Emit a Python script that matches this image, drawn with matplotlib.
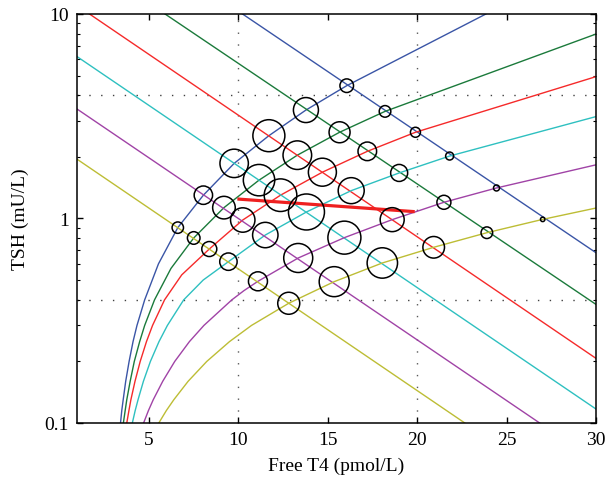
import matplotlib
matplotlib.use('Agg')
import matplotlib.pyplot as plt
import numpy as np

plt.rcParams['font.family'] = ['Liberation Serif', 'DejaVu Serif']

# colours of the six iso-lines (same order for both families)
colours = ['#3a55a6', '#1b7a3b', '#f52a2a', '#2ec0c0', '#a043a6', '#bdbd35']

# increasing curves (FT4, TSH)
inc_ft4 = [
    [3.43, 3.50, 3.58, 3.72, 3.91, 4.13, 4.35, 4.78, 5.55, 6.63, 8.06, 9.78, 11.72, 13.79, 16.07, 23.85],
    [3.59, 3.69, 3.78, 3.97, 4.20, 4.50, 4.78, 5.33, 6.25, 7.52, 9.21, 11.17, 13.31, 15.67, 18.21, 30.0],
    [3.78, 3.90, 4.01, 4.24, 4.53, 4.88, 5.22, 5.89, 6.85, 8.39, 10.26, 12.37, 14.71, 17.22, 19.91, 30.0],
    [4.09, 4.25, 4.41, 4.71, 5.10, 5.58, 6.05, 6.96, 8.05, 9.46, 11.52, 13.82, 16.32, 19.0, 21.82, 30.0],
    [4.72, 4.99, 5.26, 5.79, 6.46, 7.28, 8.09, 9.65, 10.33, 11.11, 13.36, 15.94, 18.61, 21.5, 24.44, 30.0],
    [5.57, 5.99, 6.41, 7.21, 8.25, 9.52, 10.75, 12.83, 15.37, 18.06, 20.93, 23.9, 27.02, 30.0],
]
inc_tsh = [
    [0.1, 0.115, 0.13, 0.16, 0.2, 0.25, 0.3, 0.4, 0.6, 0.902, 1.30, 1.86, 2.54, 3.39, 4.46, 10.0],
    [0.1, 0.115, 0.13, 0.16, 0.2, 0.25, 0.3, 0.4, 0.57, 0.803, 1.13, 1.54, 2.04, 2.64, 3.34, 7.98],
    [0.1, 0.115, 0.13, 0.16, 0.2, 0.25, 0.3, 0.4, 0.53, 0.709, 0.983, 1.30, 1.684, 2.13, 2.64, 4.94],
    [0.1, 0.115, 0.13, 0.16, 0.2, 0.25, 0.3, 0.4, 0.5, 0.615, 0.83, 1.076, 1.368, 1.67, 2.02, 3.15],
    [0.1, 0.115, 0.13, 0.16, 0.2, 0.25, 0.3, 0.4, 0.444, 0.493, 0.641, 0.806, 0.987, 1.20, 1.41, 1.83],
    [0.1, 0.115, 0.13, 0.16, 0.2, 0.25, 0.3, 0.385, 0.491, 0.606, 0.723, 0.852, 0.99, 1.125],
]

# decreasing lines: TSH at FT4 = 1 and FT4 = 30
dec_ft4 = [1.0, 30.0]
dec_tsh = [
    [35.2, 0.68],
    [19.5, 0.38],
    [11.0, 0.207],
    [6.19, 0.117],
    [3.43, 0.065],
    [1.95, 0.0366],
]

# circles at the intersections (FT4, TSH, relative size)
circ_ft4 = [16.07, 18.21, 19.91, 21.82, 24.44, 27.02,
            13.79, 15.67, 17.22, 19.0, 21.5, 23.9,
            11.72, 13.31, 14.71, 16.32, 18.61, 20.93,
            9.78, 11.17, 12.37, 13.82, 15.94, 18.06,
            8.06, 9.21, 10.26, 11.52, 13.36, 15.37,
            6.63, 7.52, 8.39, 9.46, 11.11, 12.83]
circ_tsh = [4.46, 3.34, 2.64, 2.02, 1.41, 0.99,
            3.39, 2.64, 2.13, 1.67, 1.20, 0.852,
            2.54, 2.04, 1.684, 1.368, 0.987, 0.723,
            1.86, 1.54, 1.30, 1.076, 0.806, 0.606,
            1.30, 1.13, 0.983, 0.83, 0.641, 0.491,
            0.902, 0.803, 0.709, 0.615, 0.493, 0.385]
circ_size = [6.8, 5.8, 5.0, 4.0, 3.0, 2.2,
             12.5, 10.5, 9.3, 8.5, 7.0, 5.8,
             16.0, 14.3, 14.0, 13.0, 12.0, 10.8,
             14.2, 15.7, 16.3, 18.0, 16.5, 15.2,
             9.2, 11.3, 12.2, 12.7, 14.5, 15.0,
             5.7, 6.3, 7.5, 8.7, 9.5, 11.0]

# thick red segment
seg_ft4 = [9.96, 19.87]
seg_tsh = [1.245, 1.08]

fig = plt.figure(figsize=(6.07, 4.85), dpi=100)
ax = fig.add_axes([0.1269, 0.1258, 0.855, 0.8433])

# reference ranges (dotted)
for xv in [10, 20]:
    ax.axvline(xv, color='0.35', lw=1.0, ls=(0, (1, 7.5)), zorder=1)
for yv in [0.4, 4]:
    ax.axhline(yv, color='0.25', lw=1.0, ls=(0, (1, 7.5)), zorder=1)

for i in range(6):
    ax.plot(inc_ft4[i], inc_tsh[i], color=colours[i], lw=1.0, zorder=2)
    ax.plot(dec_ft4, dec_tsh[i], color=colours[i], lw=1.0, zorder=2)

ax.plot(seg_ft4, seg_tsh, color='#ee2020', lw=2.3, solid_capstyle='butt', zorder=3)

s = (1.44 * np.array(circ_size)) ** 2
ax.scatter(circ_ft4, circ_tsh, s=s, facecolors='none', edgecolors='black',
           linewidths=1.1, zorder=4)

ax.set_yscale('log')
ax.set_xlim(1, 30)
ax.set_ylim(0.1, 10)
ax.set_xticks([5, 10, 15, 20, 25, 30])
ax.set_yticks([0.1, 1, 10])
ax.set_yticklabels(['0.1', '1', '10'])
ax.yaxis.set_minor_locator(matplotlib.ticker.LogLocator(base=10, subs=np.arange(2, 10)))
ax.yaxis.set_minor_formatter(matplotlib.ticker.NullFormatter())
ax.tick_params(axis='both', which='major', direction='in', length=4, width=1,
               top=True, right=True, labelsize=14, pad=6)
ax.tick_params(axis='y', which='minor', direction='in', length=2.5, width=0.8,
               left=True, right=True)
for sp in ax.spines.values():
    sp.set_linewidth(1.1)

ax.set_xlabel('Free T4 (pmol/L)', fontsize=14, labelpad=6)
ax.set_ylabel('TSH (mU/L)', fontsize=14, labelpad=11)

fig.savefig('out.png', dpi=100)
